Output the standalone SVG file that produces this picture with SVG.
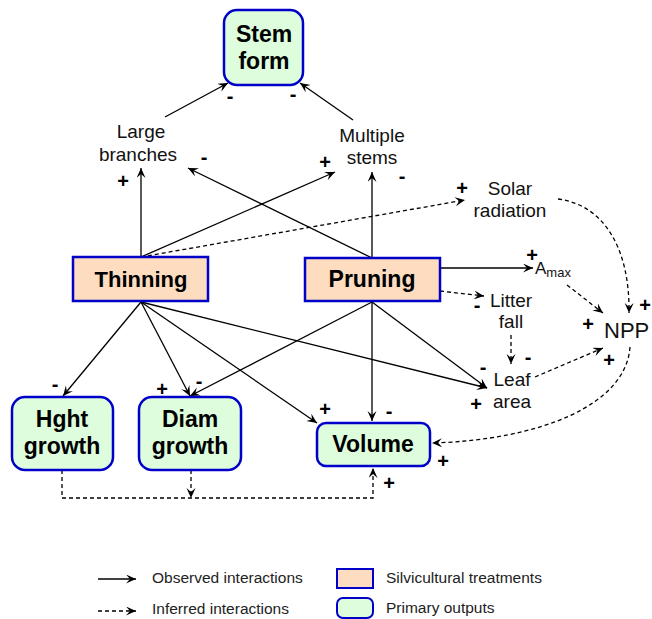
<svg xmlns="http://www.w3.org/2000/svg" width="652" height="619" viewBox="0 0 652 619">
<style>
.bx{stroke:#0000c8;stroke-width:2.5}
.tr{fill:#fddcc0}
.po{fill:#ddfddd}
.bt{font-family:"Liberation Sans",Arial,sans-serif;font-weight:bold;font-size:23px;text-anchor:middle;fill:#000}
.lb{font-family:"Liberation Sans",Arial,sans-serif;font-size:19px;text-anchor:middle;fill:#111}
.sg{font-family:"Liberation Sans",Arial,sans-serif;font-size:20px;font-weight:bold;text-anchor:middle;fill:#000}
.lg{font-family:"Liberation Sans",Arial,sans-serif;font-size:15.5px;fill:#222}
.c{fill:none;stroke:#000;stroke-width:1.3}
.s{marker-end:url(#ah)}
.d{stroke-dasharray:4 3;marker-end:url(#ah)}
</style>
<defs>
<marker id="ah" markerUnits="userSpaceOnUse" markerWidth="12" markerHeight="10" refX="10" refY="4.5" orient="auto">
<path d="M0,0 L10,4.5 L0,9 L4,4.5 z" fill="#000"/>
</marker>
</defs>

<g id="connectors" class="c">
<path class="s" d="M165,117 L228,83"/>
<path class="s" d="M353,120 L300,83"/>
<path class="s" d="M141,257 L141,168"/>
<path class="s" d="M141,257 L335,172"/>
<path class="s" d="M372,258 L188,168"/>
<path class="s" d="M372,258 L372,172"/>
<path class="s" d="M440,268 L533,268"/>
<path class="s" d="M141,302 L63,396"/>
<path class="s" d="M141,302 L190,396"/>
<path class="s" d="M141,302 L317,423"/>
<path class="s" d="M141,302 L487,388"/>
<path class="s" d="M372,302 L190,396"/>
<path class="s" d="M372,302 L372,421"/>
<path class="s" d="M372,302 L487,388"/>
<path class="d" d="M141,257 L465,200"/>
<path class="d" d="M558,199 C605,205 630,250 629,313"/>
<path class="d" d="M567,285 L603,313"/>
<path class="d" d="M440,291 L484,296"/>
<path class="d" d="M511,335 L511,364"/>
<path class="d" d="M535,377 L603,348"/>
<path class="d" d="M630,347 C626,405 540,440 432,443"/>
<path class="d" d="M62,470 L62,498 L373,498 L373,468"/>
<path class="d" d="M191,470 L191,498"/>
</g>

<g id="stem-form">
<rect class="bx po" x="224" y="10" width="79" height="75" rx="13"/>
<text class="bt" x="264" y="42">Stem</text>
<text class="bt" x="264" y="69">form</text>
</g>

<g id="large-branches">
<text class="lb" x="141" y="138">Large</text>
<text class="lb" x="138" y="161">branches</text>
</g>

<g id="multiple-stems">
<text class="lb" x="372" y="142">Multiple</text>
<text class="lb" x="372" y="164">stems</text>
</g>

<g id="solar-radiation">
<text class="lb" x="510" y="195">Solar</text>
<text class="lb" x="510" y="217">radiation</text>
</g>

<g id="thinning">
<rect class="bx tr" x="73" y="257" width="135" height="44"/>
<text class="bt" x="141" y="287" style="font-size:22px">Thinning</text>
</g>

<g id="pruning">
<rect class="bx tr" x="305" y="258" width="135" height="43"/>
<text class="bt" x="372" y="287">Pruning</text>
</g>

<g id="amax">
<text class="lb" x="535" y="274" style="text-anchor:start;font-size:17px">A<tspan font-size="13" dy="3">max</tspan></text>
</g>

<g id="litter-fall">
<text class="lb" x="511" y="307">Litter</text>
<text class="lb" x="511" y="328">fall</text>
</g>

<g id="leaf-area">
<text class="lb" x="512" y="386">Leaf</text>
<text class="lb" x="512" y="408">area</text>
</g>

<g id="npp">
<text class="lb" x="604" y="338" style="text-anchor:start;font-size:22px">NPP</text>
</g>

<g id="hght-growth">
<rect class="bx po" x="12" y="397" width="101" height="73" rx="13"/>
<text class="bt" x="62" y="427">Hght</text>
<text class="bt" x="62" y="454">growth</text>
</g>

<g id="diam-growth">
<rect class="bx po" x="139" y="397" width="102" height="73" rx="13"/>
<text class="bt" x="190" y="427">Diam</text>
<text class="bt" x="190" y="454">growth</text>
</g>

<g id="volume">
<rect class="bx po" x="317" y="423" width="113" height="43" rx="9"/>
<text class="bt" x="373" y="452">Volume</text>
</g>

<g id="signs">
<text class="sg" x="230" y="103">-</text>
<text class="sg" x="293" y="101">-</text>
<text class="sg" x="204" y="164">-</text>
<text class="sg" x="123" y="188">+</text>
<text class="sg" x="325" y="169">+</text>
<text class="sg" x="402" y="183">-</text>
<text class="sg" x="462" y="195">+</text>
<text class="sg" x="532" y="262">+</text>
<text class="sg" x="477" y="312">-</text>
<text class="sg" x="483" y="374">-</text>
<text class="sg" x="528" y="364">-</text>
<text class="sg" x="476" y="411">+</text>
<text class="sg" x="645" y="312">+</text>
<text class="sg" x="588" y="331">+</text>
<text class="sg" x="609" y="367">+</text>
<text class="sg" x="55" y="391">-</text>
<text class="sg" x="162" y="396">+</text>
<text class="sg" x="199" y="388">-</text>
<text class="sg" x="325" y="416">+</text>
<text class="sg" x="389" y="418">-</text>
<text class="sg" x="443" y="468">+</text>
<text class="sg" x="389" y="490">+</text>
</g>

<g id="legend">
<path class="c s" d="M98,579 L136,579"/>
<path class="c d" d="M98,611 L136,611"/>
<text class="lg" x="152" y="583">Observed interactions</text>
<text class="lg" x="152" y="614">Inferred interactions</text>
<rect class="bx tr" x="337" y="569" width="36" height="19" style="stroke-width:2"/>
<rect class="bx po" x="337" y="598" width="36" height="20" rx="6" style="stroke-width:2"/>
<text class="lg" x="386" y="583">Silvicultural treatments</text>
<text class="lg" x="386" y="613">Primary outputs</text>
</g>
</svg>
